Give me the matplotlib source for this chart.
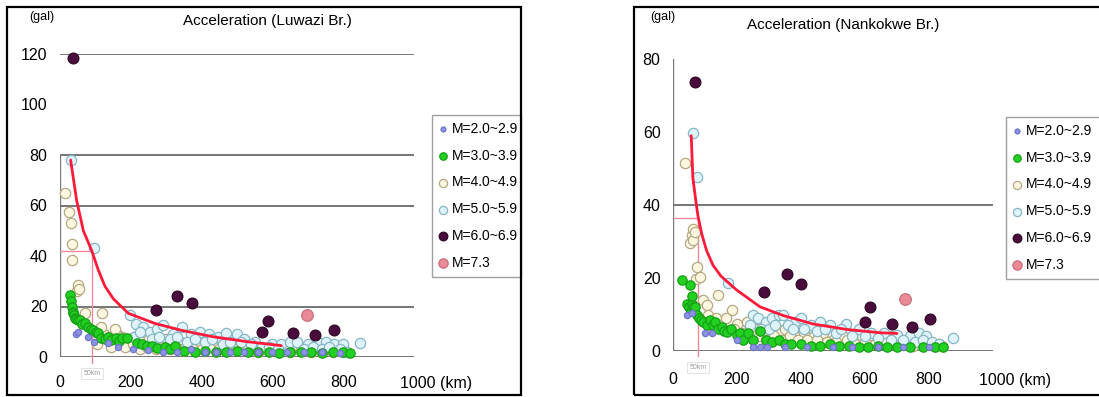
import matplotlib
matplotlib.use("Agg")
import matplotlib.pyplot as plt
from matplotlib import font_manager as fm
from matplotlib.patches import Rectangle

# ---------------- data ----------------
categories = ["M=2.0~2.9", "M=3.0~3.9", "M=4.0~4.9", "M=5.0~5.9", "M=6.0~6.9", "M=7.3"]
x_ticks = [0, 200, 400, 600, 800, 1000]
x_tick_labels = ["0", "200", "400", "600", "800", "1000 (km)"]

# Luwazi Br. (left)
luw_m2_x = [45, 50, 80, 95, 136, 165, 207, 249, 290, 330, 370, 410, 440, 480, 520, 560, 600, 640, 690, 740, 790]
luw_m2_y = [9, 10, 8, 6, 5.7, 4, 3, 2.7, 2, 2, 3, 2, 2, 2, 2, 2, 2, 2, 2, 2, 1.5]
luw_m3_x = [28, 31, 33, 36, 38, 40, 42, 46, 50, 56, 62, 71, 80, 88, 94, 102, 108, 117, 127, 135, 143, 157, 168, 176,
            190, 218, 232, 245, 259, 275, 297, 310, 326, 350, 380, 410, 440, 470, 500, 530, 560, 590, 620, 650, 680,
            710, 740, 770, 800, 820]
luw_m3_y = [24.5, 22, 20, 18, 17.3, 16.5, 15.5, 15, 14.5, 14.7, 13, 13.4, 12, 11, 10.6, 10, 9.5, 7.5, 7, 8, 6.6, 7.5,
            6.5, 7.5, 7.5, 5.5, 5, 4.5, 4.4, 3.5, 3.8, 3, 4.4, 2.5, 2, 2.5, 2, 2, 2.5, 2, 2, 2, 1.5, 2, 2, 2, 1.5, 2,
            2, 1.5]
luw_m4_x = [14, 25, 31, 33, 33, 49, 52, 55, 71, 100, 118, 125, 140, 160, 175, 190, 210, 230, 250, 265, 280, 300, 320,
            340, 360, 385, 410, 430, 460, 490, 520, 545, 575, 610, 640, 670, 700, 730, 760, 790,
            105, 115, 145, 155, 185, 205, 225, 245, 270, 290, 310, 335, 355, 375, 400, 420, 450, 470, 500, 530, 560,
            590, 620, 650, 680, 710, 740, 770, 800]
luw_m4_y = [64.8, 57.5, 53, 44.6, 38.4, 26, 28.5, 27, 17.3, 10, 17.3, 9, 8, 9, 8, 7, 8, 6, 7, 5, 6, 7, 5, 6, 5, 6, 4,
            5, 6, 4, 4, 5, 3, 4, 3, 4, 3, 4, 3, 3,
            5, 12, 4, 11, 4, 5, 3, 4, 3, 4, 3, 3, 4, 3, 3, 4, 3, 3, 3, 3, 2, 3, 2, 2, 3, 2, 2, 2, 2]
luw_m5_x = [31, 97, 198, 215, 235, 255, 275, 292, 320, 345, 370, 395, 420, 445, 470, 500, 520, 550, 600, 625, 650, 670,
            700, 730, 750, 775, 800, 847,
            210, 225, 260, 280, 310, 330, 360, 380, 410, 430, 460, 480, 510, 540, 570, 590, 615, 690, 715, 740, 760,
            790, 810]
luw_m5_y = [78, 43, 16.6, 13, 12, 10, 11, 12.7, 9, 12, 9, 10, 9, 8, 9.5, 9, 7, 6, 5, 5, 6, 6, 5, 6, 6, 5, 5, 5.4,
            8, 10, 7, 8, 7, 8, 6, 7, 6, 7, 5, 6, 6, 5, 4, 4, 3, 3, 4, 3, 4, 3, 2]
luw_m6_x = [36, 271, 330, 374, 572, 588, 659, 720, 775]
luw_m6_y = [118.3, 18.6, 24.3, 21.3, 10, 14.4, 9.7, 8.7, 10.7]
luw_m7_x = [697]
luw_m7_y = [16.6]
luw_curve_x = [30, 47, 66, 90, 108, 127, 151, 193, 268, 345, 433, 527, 625]
luw_curve_y = [78, 62, 50, 42, 34.5, 28, 23, 17.3, 13.3, 10.5, 8, 6.1, 4.5]
luw_mark = (90, 42)

# Nankokwe Br. (right)
nan_m2_x = [45, 58, 100, 121, 200, 251, 272, 293, 350, 420, 500, 560, 640, 720, 800]
nan_m2_y = [10, 10.3, 5, 4.9, 3, 1.2, 1.2, 1.2, 1, 1, 1, 1, 1, 1, 1]
nan_m3_x = [27, 53, 45, 50, 55, 58, 60, 63, 66, 70, 75, 80, 88, 95, 105, 116, 125, 131, 140, 152, 160, 168, 180, 199,
            210, 220, 235, 250, 272, 290, 310, 330, 350, 370, 400, 430, 460, 490, 520, 550, 580, 610, 640, 670, 700,
            740, 780, 820, 845]
nan_m3_y = [19.4, 18.1, 13, 12, 11, 13, 15, 12, 11, 12, 10, 9, 8.5, 8, 7, 8.5, 7, 8, 6, 6.7, 5.5, 5.3, 6, 4.4, 5, 3,
            5, 3, 5.5, 3, 2.5, 3, 2, 2, 2, 1.5, 1.5, 2, 1.5, 1.5, 1, 1, 1.5, 1, 1, 1, 1, 1, 1]
nan_m4_x = [36, 53, 58, 62, 62, 69, 72, 76, 84, 95, 105, 142, 183, 199, 230, 260, 280, 300, 330, 350, 380, 410, 440,
            470, 500, 530, 560, 590, 620, 650, 680, 710, 740, 770, 800, 830,
            110, 120, 135, 155, 165, 190, 215, 240, 255, 270, 290, 315, 340, 365, 390, 420, 450, 480, 510, 545, 570,
            600, 630, 660, 690, 720, 750, 785, 815, 840]
nan_m4_y = [51.5, 29.6, 31.8, 33.4, 30.4, 32.6, 19.6, 23.1, 20.4, 14, 12.6, 15.3, 11.2, 7.5, 8, 6, 5, 6, 5, 6, 4, 5, 4,
            5, 3, 4, 3, 4, 3, 3, 4, 3, 2, 3, 2, 2,
            10, 7, 9, 6, 9, 6, 5, 6, 4, 4, 3, 4, 3, 4, 3, 3, 3, 2.5, 2.5, 3, 2, 2.5, 2, 2.5, 2, 2, 1.5, 2, 1.5, 1.5]
nan_m5_x = [61, 74, 173, 250, 265, 290, 310, 330, 345, 380, 400, 430, 460, 490, 540, 580, 620, 660, 700, 740, 770, 790,
            876,
            240, 275, 300, 320, 360, 375, 410, 450, 475, 510, 525, 560, 600, 640, 680, 720, 755, 780, 810, 830]
nan_m5_y = [59.8, 47.6, 18.5, 10, 9, 8, 9, 10, 10, 8, 9, 7, 8, 7, 7.5, 6, 5, 5, 4.5, 4, 5, 4, 3.5,
            7, 6, 6, 7, 7, 6, 6, 5.5, 6, 5, 6, 4, 4, 3.5, 3, 3, 2.5, 3, 2.5, 2]
nan_m6_x = [69, 284, 355, 400, 600, 616, 683, 746, 803]
nan_m6_y = [73.8, 16.1, 21.1, 18.3, 7.9, 12.1, 7.4, 6.5, 8.7]
nan_m7_x = [725]
nan_m7_y = [14.2]
nan_curve_x = [57, 62, 70, 78, 90, 105, 125, 150, 199, 272, 345, 438, 543, 647, 700]
nan_curve_y = [59, 47.5, 42, 37, 32, 27.5, 23.5, 20.5, 16.7, 12.1, 9.7, 7.4, 5.9, 5.0, 4.8]
nan_mark = (78, 36.5)

# ---------------- styling ----------------
styles = [
    dict(s=20, fc="#8c93e6", ec="#6f76c8"),
    dict(s=45, fc="#22d022", ec="#16a016"),
    dict(s=55, fc="#fdf6e0", ec="#b5a882"),
    dict(s=55, fc="#dff3fa", ec="#86b6c6"),
    dict(s=60, fc="#4a0c3c", ec="#2e0626"),
    dict(s=70, fc="#ea8a96", ec="#c8707e"),
]


def pick_font():
    for fam in ["Liberation Sans Narrow", "Liberation Sans", "DejaVu Sans"]:
        try:
            fm.findfont(fm.FontProperties(family=fam), fallback_to_default=False)
            return fam
        except Exception:
            continue
    return "DejaVu Sans"


FONT = pick_font()
plt.rcParams["font.family"] = [FONT, "DejaVu Sans"]

W, H = 1099, 397
fig = plt.figure(figsize=(W / 100, H / 100), dpi=100)
fig.patch.set_facecolor("white")


def rect(x0, x1, ytop, ybot):
    return [x0 / W, 1 - ybot / H, (x1 - x0) / W, (ybot - ytop) / H]


def panel(axpos, ymax, hlines, series, curve, mark, title, title_xy, gal_xy, legend_box, xpad):
    ax = fig.add_axes(axpos)
    ax.set_xlim(0, 1000)
    ax.set_ylim(0, ymax)
    for sp in ax.spines.values():
        sp.set_visible(False)
    ax.set_facecolor("none")
    for h in hlines:
        ax.axhline(h, color="#6a6a6a", lw=1.3, zorder=1)
    ax.plot([0, 0], [0, 80], color="#7a7a7a", lw=1.0, zorder=1)
    # pink crosshair
    ax.plot([0, mark[0]], [mark[1], mark[1]], color="#f08a9a", lw=1.0, zorder=1)
    ax.plot([mark[0], mark[0]], [-1.5 * ymax / 80, mark[1]], color="#f08a9a", lw=1.0, zorder=1, clip_on=False)
    order = [2, 3, 1, 0, 4, 5]
    hs = {}
    for i in order:
        xs, ys = series[i]
        st = styles[i]
        hs[i] = ax.scatter(xs, ys, s=st["s"], facecolors=st["fc"], edgecolors=st["ec"], linewidths=0.9,
                           zorder=3 + order.index(i) * 0.1, clip_on=False, label=categories[i])
    handles = [hs[i] for i in range(6)]
    ax.plot(curve[0], curve[1], color="#ff1a3a", lw=2.0, zorder=5, solid_capstyle="round")
    ax.set_xticks(x_ticks[:-1])
    ax.set_xticklabels(x_tick_labels[:-1], fontsize=11.5)
    ax.annotate(x_tick_labels[-1], xy=(x_ticks[-1], 0), xycoords="data", xytext=(-10, -(xpad + 6)),
                textcoords="offset points", ha="left", va="center", fontsize=11.5)
    ax.tick_params(axis="x", length=0, pad=xpad)
    ax.set_yticks(list(range(0, ymax + 1, 20)))
    ax.tick_params(axis="y", length=0, pad=9, labelsize=11.5)
    ax.annotate("50km", xy=(mark[0], 0), xytext=(0, -12), textcoords="offset points", ha="center", va="center",
                fontsize=5, color="#9a9a9a",
                bbox=dict(boxstyle="square,pad=0.3", fc="white", ec="#dddddd", lw=0.6))
    fig.text(title_xy[0] / W, 1 - title_xy[1] / H, title, ha="center", va="center", fontsize=11)
    fig.text(gal_xy[0] / W, 1 - gal_xy[1] / H, "(gal)", ha="center", va="center", fontsize=9)
    lx0, ly0, lx1, ly1 = legend_box
    leg = fig.legend(handles=handles, labels=categories, loc="upper left",
                     bbox_to_anchor=(lx0 / W, 1 - ly1 / H, (lx1 - lx0) / W, (ly1 - ly0) / H),
                     mode="expand", borderaxespad=0, frameon=True, fancybox=False, fontsize=10,
                     handlelength=0.6, handletextpad=0.3, labelspacing=0.92, borderpad=0.5,
                     markerscale=0.8, scatterpoints=1)
    leg.get_frame().set_edgecolor("#8a8a8a")
    leg.get_frame().set_linewidth(1.0)
    return ax


left_series = [(luw_m2_x, luw_m2_y), (luw_m3_x, luw_m3_y), (luw_m4_x, luw_m4_y), (luw_m5_x, luw_m5_y),
               (luw_m6_x, luw_m6_y), (luw_m7_x, luw_m7_y)]
right_series = [(nan_m2_x, nan_m2_y), (nan_m3_x, nan_m3_y), (nan_m4_x, nan_m4_y), (nan_m5_x, nan_m5_y),
                (nan_m6_x, nan_m6_y), (nan_m7_x, nan_m7_y)]

panel(rect(60, 414, 54, 357), 120, [0, 20, 60, 80, 120], left_series, (luw_curve_x, luw_curve_y), luw_mark,
      "Acceleration (Luwazi Br.)", (267, 21), (42, 17), (432, 115, 521, 267), 13)
panel(rect(673, 993, 59, 351), 80, [0, 40], right_series, (nan_curve_x, nan_curve_y), nan_mark,
      "Acceleration (Nankokwe Br.)", (843, 25), (663, 17), (1006, 117, 1110, 267), 15)

# panel borders
fig.patches.append(Rectangle((7 / W, 1 - 395 / H), (521 - 7) / W, (395 - 7) / H, fill=False, lw=1.6,
                             ec="black", transform=fig.transFigure, zorder=10))
fig.patches.append(Rectangle((634 / W, 1 - 395 / H), (1110 - 634) / W, (395 - 7) / H, fill=False, lw=1.6,
                             ec="black", transform=fig.transFigure, zorder=10))

fig.savefig("out.png", dpi=100)
